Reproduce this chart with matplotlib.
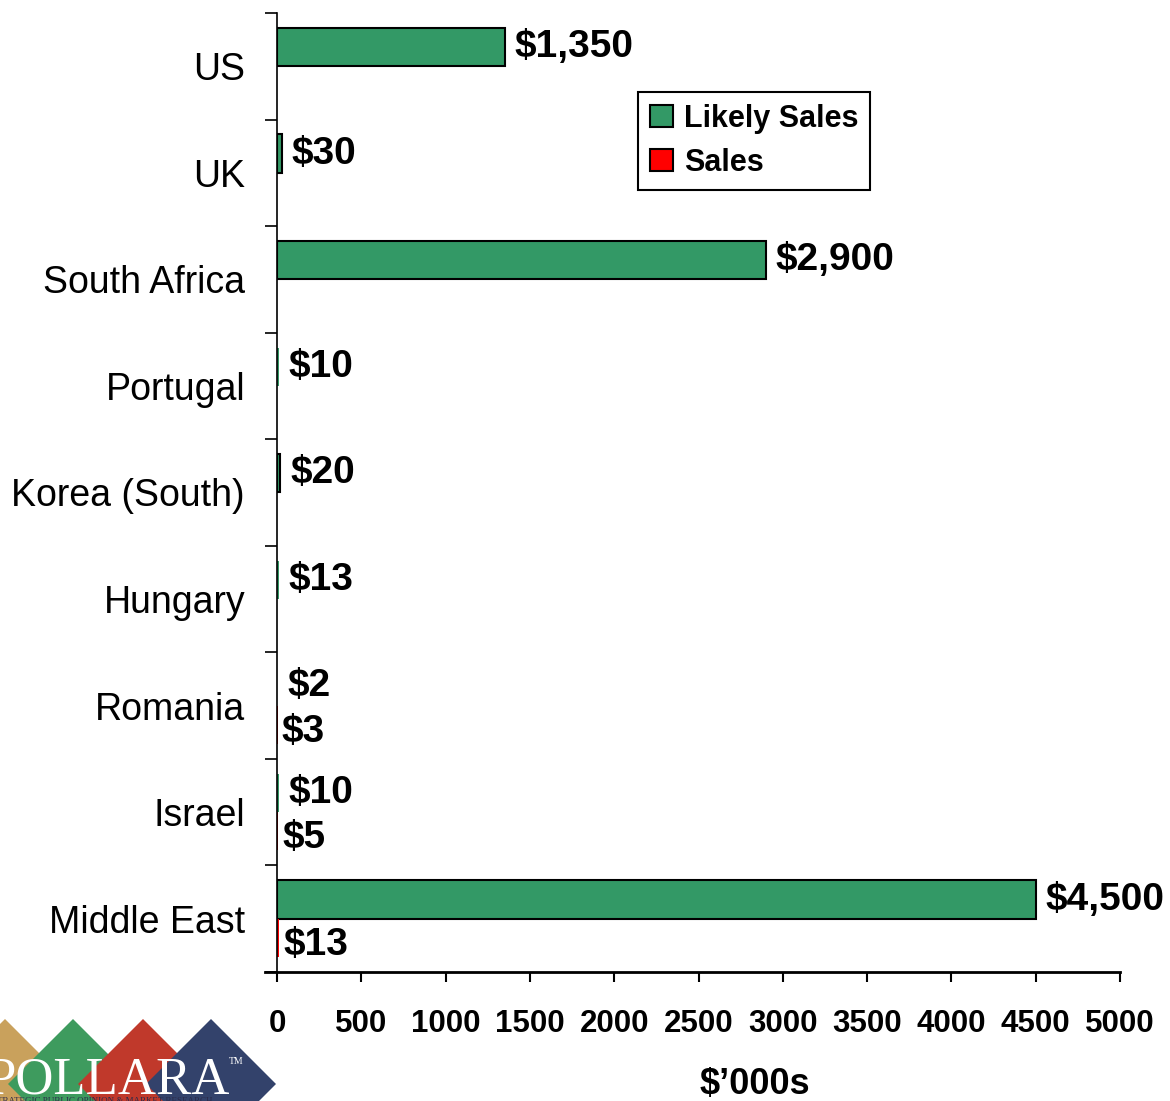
import numpy as np
import matplotlib.pyplot as plt
from matplotlib.patches import Patch, Polygon

plt.rcParams['font.family'] = ['Liberation Sans', 'DejaVu Sans']

countries = ['US', 'UK', 'South Africa', 'Portugal', 'Korea (South)',
             'Hungary', 'Romania', 'Israel', 'Middle East']
likely_sales = [1350, 30, 2900, 10, 20, 13, 2, 10, 4500]
sales = [0, 0, 0, 0, 0, 0, 3, 5, 13]

green = '#339966'
red = '#FF0000'

fig = plt.figure(figsize=(11.7, 11.01), dpi=100)
ax = fig.add_axes([0.2368, 0.1172, 0.7205, 0.8710])

y = np.arange(len(countries))
h = 0.36
# very thin bars are practically invisible in the original, so no outline there
edge_l = ['black' if v >= 15 else 'none' for v in likely_sales]
edge_s = ['black' if v >= 15 else 'none' for v in sales]
ax.barh(y - h / 2, likely_sales, height=h, color=green, edgecolor=edge_l,
        linewidth=1.5, label='Likely Sales')
ax.barh(y + h / 2, sales, height=h, color=red, edgecolor=edge_s,
        linewidth=1.5, label='Sales')

for i, v in enumerate(likely_sales):
    ax.annotate(r'\$' + f'{v:,}', xy=(v, i - h / 2), xytext=(7, 0),
                textcoords='offset points', ha='left', va='center',
                fontsize=28, fontweight='bold', clip_on=False)
for i, v in enumerate(sales):
    if v > 0:
        ax.annotate(r'\$' + f'{v:,}', xy=(v, i + h / 2), xytext=(3, -5),
                    textcoords='offset points', ha='left', va='center',
                    fontsize=28, fontweight='bold', clip_on=False)

ax.set_xlim(0, 5000)
ax.set_ylim(len(countries) - 0.5, -0.5)
ax.set_xticks(np.arange(0, 5001, 500))
ax.set_yticks(y)
ax.set_yticklabels(countries, fontsize=27)
ax.set_yticks(np.arange(-0.5, len(countries), 1), minor=True)
ax.tick_params(axis='y', which='major', length=0, pad=23)
ax.tick_params(axis='y', which='minor', length=8.5, width=1.2, direction='out')
ax.tick_params(axis='x', which='major', length=7.5, width=1.5, direction='out',
               labelsize=22.5, pad=19)
for lab in ax.get_xticklabels():
    lab.set_fontweight('bold')

ax.spines['top'].set_visible(False)
ax.spines['right'].set_visible(False)
ax.spines['left'].set_linewidth(1.2)
ax.spines['bottom'].set_linewidth(2)
ax.spines['bottom'].set_bounds(-70, 5000)

ax.set_xlabel(r"\$’000s", fontsize=26, fontweight='bold')
ax.xaxis.set_label_coords(0.567, -0.099)

handles = [Patch(facecolor=green, edgecolor='black', linewidth=1.5),
           Patch(facecolor=red, edgecolor='black', linewidth=1.5)]
leg = ax.legend(handles, ['Likely Sales', 'Sales'], loc='upper left',
                bbox_to_anchor=(0.428, 0.918), borderaxespad=0,
                prop={'size': 22, 'weight': 'bold'}, handlelength=0.75,
                handleheight=0.75, handletextpad=0.35, labelspacing=0.45,
                borderpad=0.4, fancybox=False, framealpha=1)
leg.get_frame().set_edgecolor('black')
leg.get_frame().set_linewidth(1.5)

# logo in the bottom-left corner, figure pixel coords
lax = fig.add_axes([0, 0, 1, 1], zorder=-1)
lax.set_xlim(0, 1170)
lax.set_ylim(1101, 0)
lax.axis('off')
for cx, col in zip([5, 73, 143, 211], ['#C9A15C', '#3E9B5E', '#C0392B', '#33426B']):
    lax.add_patch(Polygon([(cx, 1019), (cx + 65, 1084), (cx, 1149), (cx - 65, 1084)],
                          closed=True, facecolor=col, edgecolor='none'))
lax.text(-14, 1093, 'POLLARA', family='Liberation Serif', fontsize=38,
         color='white', ha='left', va='baseline')
lax.text(229, 1064, 'TM', family='Liberation Serif', fontsize=7,
         color='white', ha='left', va='baseline')
lax.text(-8, 1097, 'STRATEGIC PUBLIC OPINION & MARKET RESEARCH',
         family='Liberation Serif', fontsize=6.5, color='#2B2B4A',
         ha='left', va='top')

fig.savefig('out.png', dpi=100)
